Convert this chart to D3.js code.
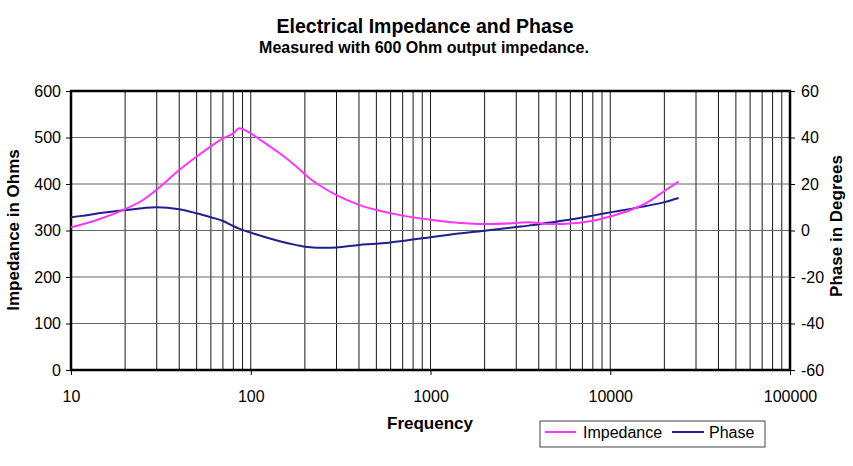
<!DOCTYPE html>
<html>
<head>
<meta charset="utf-8">
<script src="https://cdn.jsdelivr.net/npm/d3@7"></script>
<style>
  body { margin: 0; background: #fff; }
  text { font-family: "Liberation Sans", Arial, sans-serif; }
</style>
</head>
<body>
<script>
var width = 853;
var height = 466;

// values
var freqs =     [10, 12, 15, 20, 25, 30, 40, 50, 60, 70, 80, 86, 100, 117, 145, 180, 200, 233, 300, 400, 500, 700, 1000, 1300, 2000, 3000, 3500, 4500, 6000, 8000, 10000, 13000, 16000, 20000, 24000];
var impedance = [307, 315, 327, 346, 365, 388, 430, 459, 481, 498, 509, 520, 509, 491, 466, 437, 421, 401, 376, 355, 344, 332, 323, 318, 314, 316, 318, 314, 315, 321, 330, 344, 360, 385, 405];
var phase =     [5.7, 6.5, 7.6, 8.8, 9.6, 10.0, 9.1, 7.4, 5.7, 4.1, 1.9, 0.8, -0.9, -2.6, -4.6, -6.3, -7.0, -7.4, -7.3, -6.2, -5.7, -4.5, -2.9, -1.7, -0.1, 1.5, 2.1, 3.3, 4.7, 6.4, 7.8, 9.3, 10.6, 12.2, 14.0];

var xTicks = [10, 100, 1000, 10000, 100000];
var ohmTicks = [0, 100, 200, 300, 400, 500, 600];
var degTicks = [-60, -40, -20, 0, 20, 40, 60];

var plotLeft = 71, plotRight = 790, plotTop = 91, plotBottom = 370;

var svg = d3.select("body").append("svg")
  .attr("width", width)
  .attr("height", height);

var x = d3.scaleLog().domain([10, 100000]).range([plotLeft, plotRight]);
var yL = d3.scaleLinear().domain([0, 600]).range([plotBottom, plotTop]);
var yR = d3.scaleLinear().domain([-60, 60]).range([plotBottom, plotTop]);

// grid at 1..9 in each decade
var gridX = [];
for (var d = 10; d < 100000; d *= 10) {
  for (var k = 1; k < 10; k++) gridX.push(d * k);
}

svg.append("g").selectAll("line")
  .data(gridX)
  .enter().append("line")
  .attr("x1", function(f) { return x(f); })
  .attr("x2", function(f) { return x(f); })
  .attr("y1", plotTop).attr("y2", plotBottom)
  .attr("stroke", "#1a1a1a").attr("stroke-width", 1);

svg.append("g").selectAll("line")
  .data(ohmTicks)
  .enter().append("line")
  .attr("x1", plotLeft).attr("x2", plotRight)
  .attr("y1", function(v) { return yL(v); })
  .attr("y2", function(v) { return yL(v); })
  .attr("stroke", "#666").attr("stroke-width", 1.2);

// axes
var axL = svg.append("g")
  .attr("transform", "translate(" + plotLeft + ",0)")
  .call(d3.axisLeft(yL).tickValues(ohmTicks).tickSize(5).tickPadding(5));
var axR = svg.append("g")
  .attr("transform", "translate(" + plotRight + ",0)")
  .call(d3.axisRight(yR).tickValues(degTicks).tickFormat(function(v) { return String(v); }).tickSize(5).tickPadding(6));
var axB = svg.append("g")
  .attr("transform", "translate(0," + plotBottom + ")")
  .call(d3.axisBottom(x).tickValues(xTicks).tickFormat(function(v) { return String(v); }).tickSize(5).tickPadding(16));

[axL, axR, axB].forEach(function(a) {
  a.select(".domain").remove();
  a.selectAll("line").attr("stroke", "#000");
  a.selectAll("text").attr("font-size", 16).attr("fill", "#000")
    .attr("font-family", "Liberation Sans, Arial, sans-serif");
});

// frame
svg.append("rect")
  .attr("x", plotLeft).attr("y", plotTop)
  .attr("width", plotRight - plotLeft).attr("height", plotBottom - plotTop)
  .attr("fill", "none").attr("stroke", "#000").attr("stroke-width", 2.5);

// curves
var pts = freqs.map(function(f, i) { return { f: f, z: impedance[i], p: phase[i] }; });

var zLine = d3.line()
  .x(function(d) { return x(d.f); })
  .y(function(d) { return yL(d.z); })
  .curve(d3.curveCatmullRom.alpha(0.5));
var pLine = d3.line()
  .x(function(d) { return x(d.f); })
  .y(function(d) { return yR(d.p); })
  .curve(d3.curveCatmullRom.alpha(0.5));

svg.append("path").datum(pts)
  .attr("d", pLine)
  .attr("fill", "none").attr("stroke", "#1f1f8f").attr("stroke-width", 2);
svg.append("path").datum(pts)
  .attr("d", zLine)
  .attr("fill", "none").attr("stroke", "#ff33ff").attr("stroke-width", 2);

// titles
svg.append("text")
  .attr("x", 425).attr("y", 33)
  .attr("text-anchor", "middle")
  .attr("font-size", 19.5).attr("font-weight", "bold")
  .text("Electrical Impedance and Phase");
svg.append("text")
  .attr("x", 424).attr("y", 53)
  .attr("text-anchor", "middle")
  .attr("font-size", 16).attr("font-weight", "bold")
  .text("Measured with 600 Ohm output impedance.");

svg.append("text")
  .attr("x", 430).attr("y", 429)
  .attr("text-anchor", "middle")
  .attr("font-size", 17).attr("font-weight", "bold")
  .text("Frequency");

svg.append("text")
  .attr("transform", "translate(19," + 230 + ") rotate(-90)")
  .attr("text-anchor", "middle")
  .attr("font-size", 17).attr("font-weight", "bold")
  .text("Impedance in Ohms");

svg.append("text")
  .attr("transform", "translate(842," + 226 + ") rotate(-90)")
  .attr("text-anchor", "middle")
  .attr("font-size", 17).attr("font-weight", "bold")
  .text("Phase in Degrees");

// legend
var legend = svg.append("g").attr("transform", "translate(540,421)");
legend.append("rect")
  .attr("width", 225).attr("height", 26)
  .attr("fill", "#fff").attr("stroke", "#444").attr("stroke-width", 1);
legend.append("line")
  .attr("x1", 5).attr("x2", 36).attr("y1", 11).attr("y2", 11)
  .attr("stroke", "#ff33ff").attr("stroke-width", 2);
legend.append("text")
  .attr("x", 43).attr("y", 17)
  .attr("font-size", 16)
  .text("Impedance");
legend.append("line")
  .attr("x1", 132).attr("x2", 164).attr("y1", 11).attr("y2", 11)
  .attr("stroke", "#1f1f8f").attr("stroke-width", 2);
legend.append("text")
  .attr("x", 169).attr("y", 17)
  .attr("font-size", 16)
  .text("Phase");
</script>
</body>
</html>
